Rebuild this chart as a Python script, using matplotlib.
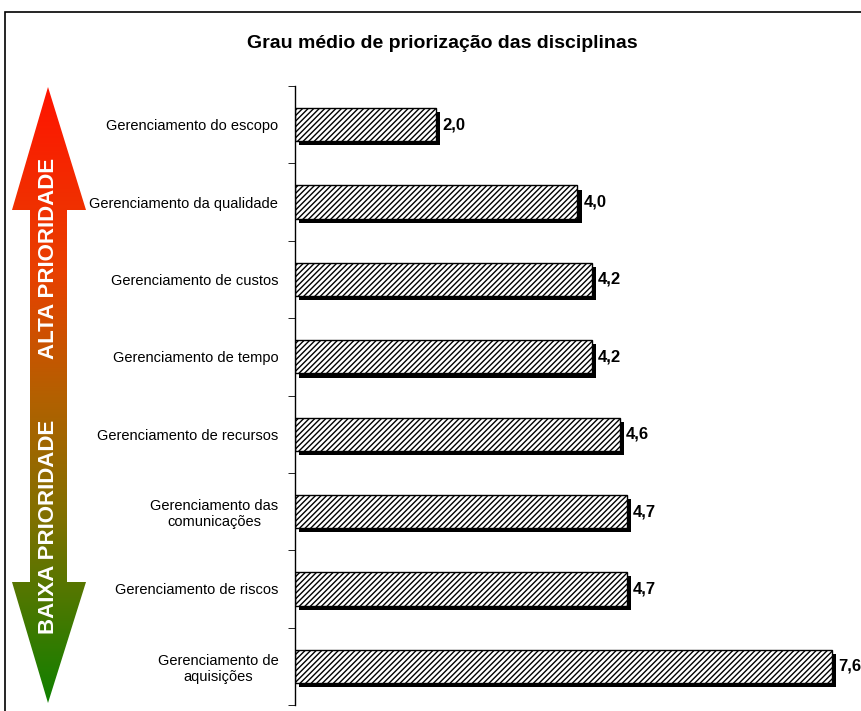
import numpy as np
import matplotlib
matplotlib.use("Agg")
import matplotlib.pyplot as plt
import matplotlib.patheffects as pe
from matplotlib.patches import Polygon, Rectangle

plt.rcParams['font.family'] = ['Liberation Sans', 'DejaVu Sans']
plt.rcParams['hatch.color'] = 'black'
plt.rcParams['hatch.linewidth'] = 1.0

# data (top to bottom, as in the chart)
categories = ['Gerenciamento do escopo', 'Gerenciamento da qualidade',
              'Gerenciamento de custos', 'Gerenciamento de tempo',
              'Gerenciamento de recursos', 'Gerenciamento das\ncomunicações',
              'Gerenciamento de riscos', 'Gerenciamento de\naquisições']
values = [2.0, 4.0, 4.2, 4.2, 4.6, 4.7, 4.7, 7.6]
value_labels = ['2,0', '4,0', '4,2', '4,2', '4,6', '4,7', '4,7', '7,6']
title = 'Grau médio de priorização das disciplinas'
arrow_top_text = 'ALTA PRIORIDADE'
arrow_bottom_text = 'BAIXA PRIORIDADE'

W, H = 862, 711
fig = plt.figure(figsize=(W / 100, H / 100), dpi=100)

# outer frame of the chart area (runs off the right/bottom edges)
fig.add_artist(Rectangle((5 / W, -0.05), 1.0, 1 - 12 / H + 0.05,
                         transform=fig.transFigure, fill=False,
                         edgecolor='black', lw=1.2))

fig.text(442 / W, 1 - 43 / H, title, ha='center', va='center',
         fontsize=14, fontweight='bold')

# main bar chart
ax = fig.add_axes([295 / W, 1 - 705 / H, (W - 295) / W, (705 - 86) / H])
y = np.arange(len(categories))
shadow = [pe.SimplePatchShadow(offset=(3, -3), shadow_rgbFace='black', alpha=1.0),
          pe.Normal()]
bars = ax.barh(y, values, height=0.43, color='white', edgecolor='black',
               hatch='//////', linewidth=1.0)
for b in bars:
    b.set_path_effects(shadow)

for yi, v, lbl in zip(y, values, value_labels):
    ax.annotate(lbl, (v, yi), xytext=(4.5, 0), textcoords='offset points',
                va='center', ha='left', fontsize=12, fontweight='bold',
                annotation_clip=False)

ax.set_xlim(0, (W - 295) / 70.6)
ax.set_ylim(len(categories) - 0.5, -0.5)
ax.set_yticks(y)
ax.set_yticklabels(categories, fontsize=10.5)
for t in ax.get_yticklabels():
    t.set_multialignment('center')
ax.set_yticks(np.arange(-0.5, len(categories)), minor=True)
ax.tick_params(axis='y', which='major', length=0, pad=12)
ax.tick_params(axis='y', which='minor', length=5, direction='out')
ax.set_xticks([])
for s in ['top', 'right', 'bottom']:
    ax.spines[s].set_visible(False)
ax.spines['left'].set_linewidth(1.0)

# gradient priority arrow on the left (pixel coordinates)
ov = fig.add_axes([0, 0, 1, 1])
ov.set_xlim(0, W)
ov.set_ylim(H, 0)
ov.axis('off')
ov.patch.set_alpha(0)
pts = [(48, 87), (86, 210), (67, 210), (67, 582), (86, 582), (48, 703),
       (12, 582), (30, 582), (30, 210), (12, 210)]
poly = Polygon(pts, closed=True, facecolor='none', edgecolor='none')
ov.add_patch(poly)
stops = [0.0, 0.3, 0.5, 0.7, 1.0]
cols = np.array([[255, 20, 0], [232, 64, 0], [180, 96, 0], [128, 112, 0], [16, 128, 0]]) / 255.0
t = np.linspace(0, 1, 256)
grad = np.stack([np.interp(t, stops, cols[:, k]) for k in range(3)], axis=1)
img = ov.imshow(grad[:, None, :], extent=(12, 86, 703, 87), aspect='auto',
                interpolation='bilinear')
img.set_clip_path(poly)
ov.text(49, 258, arrow_top_text, rotation=90, ha='center', va='center',
        color='white', fontsize=16, fontweight='bold')
ov.text(49, 527, arrow_bottom_text, rotation=90, ha='center', va='center',
        color='white', fontsize=16, fontweight='bold')

fig.savefig('out.png', dpi=100)
